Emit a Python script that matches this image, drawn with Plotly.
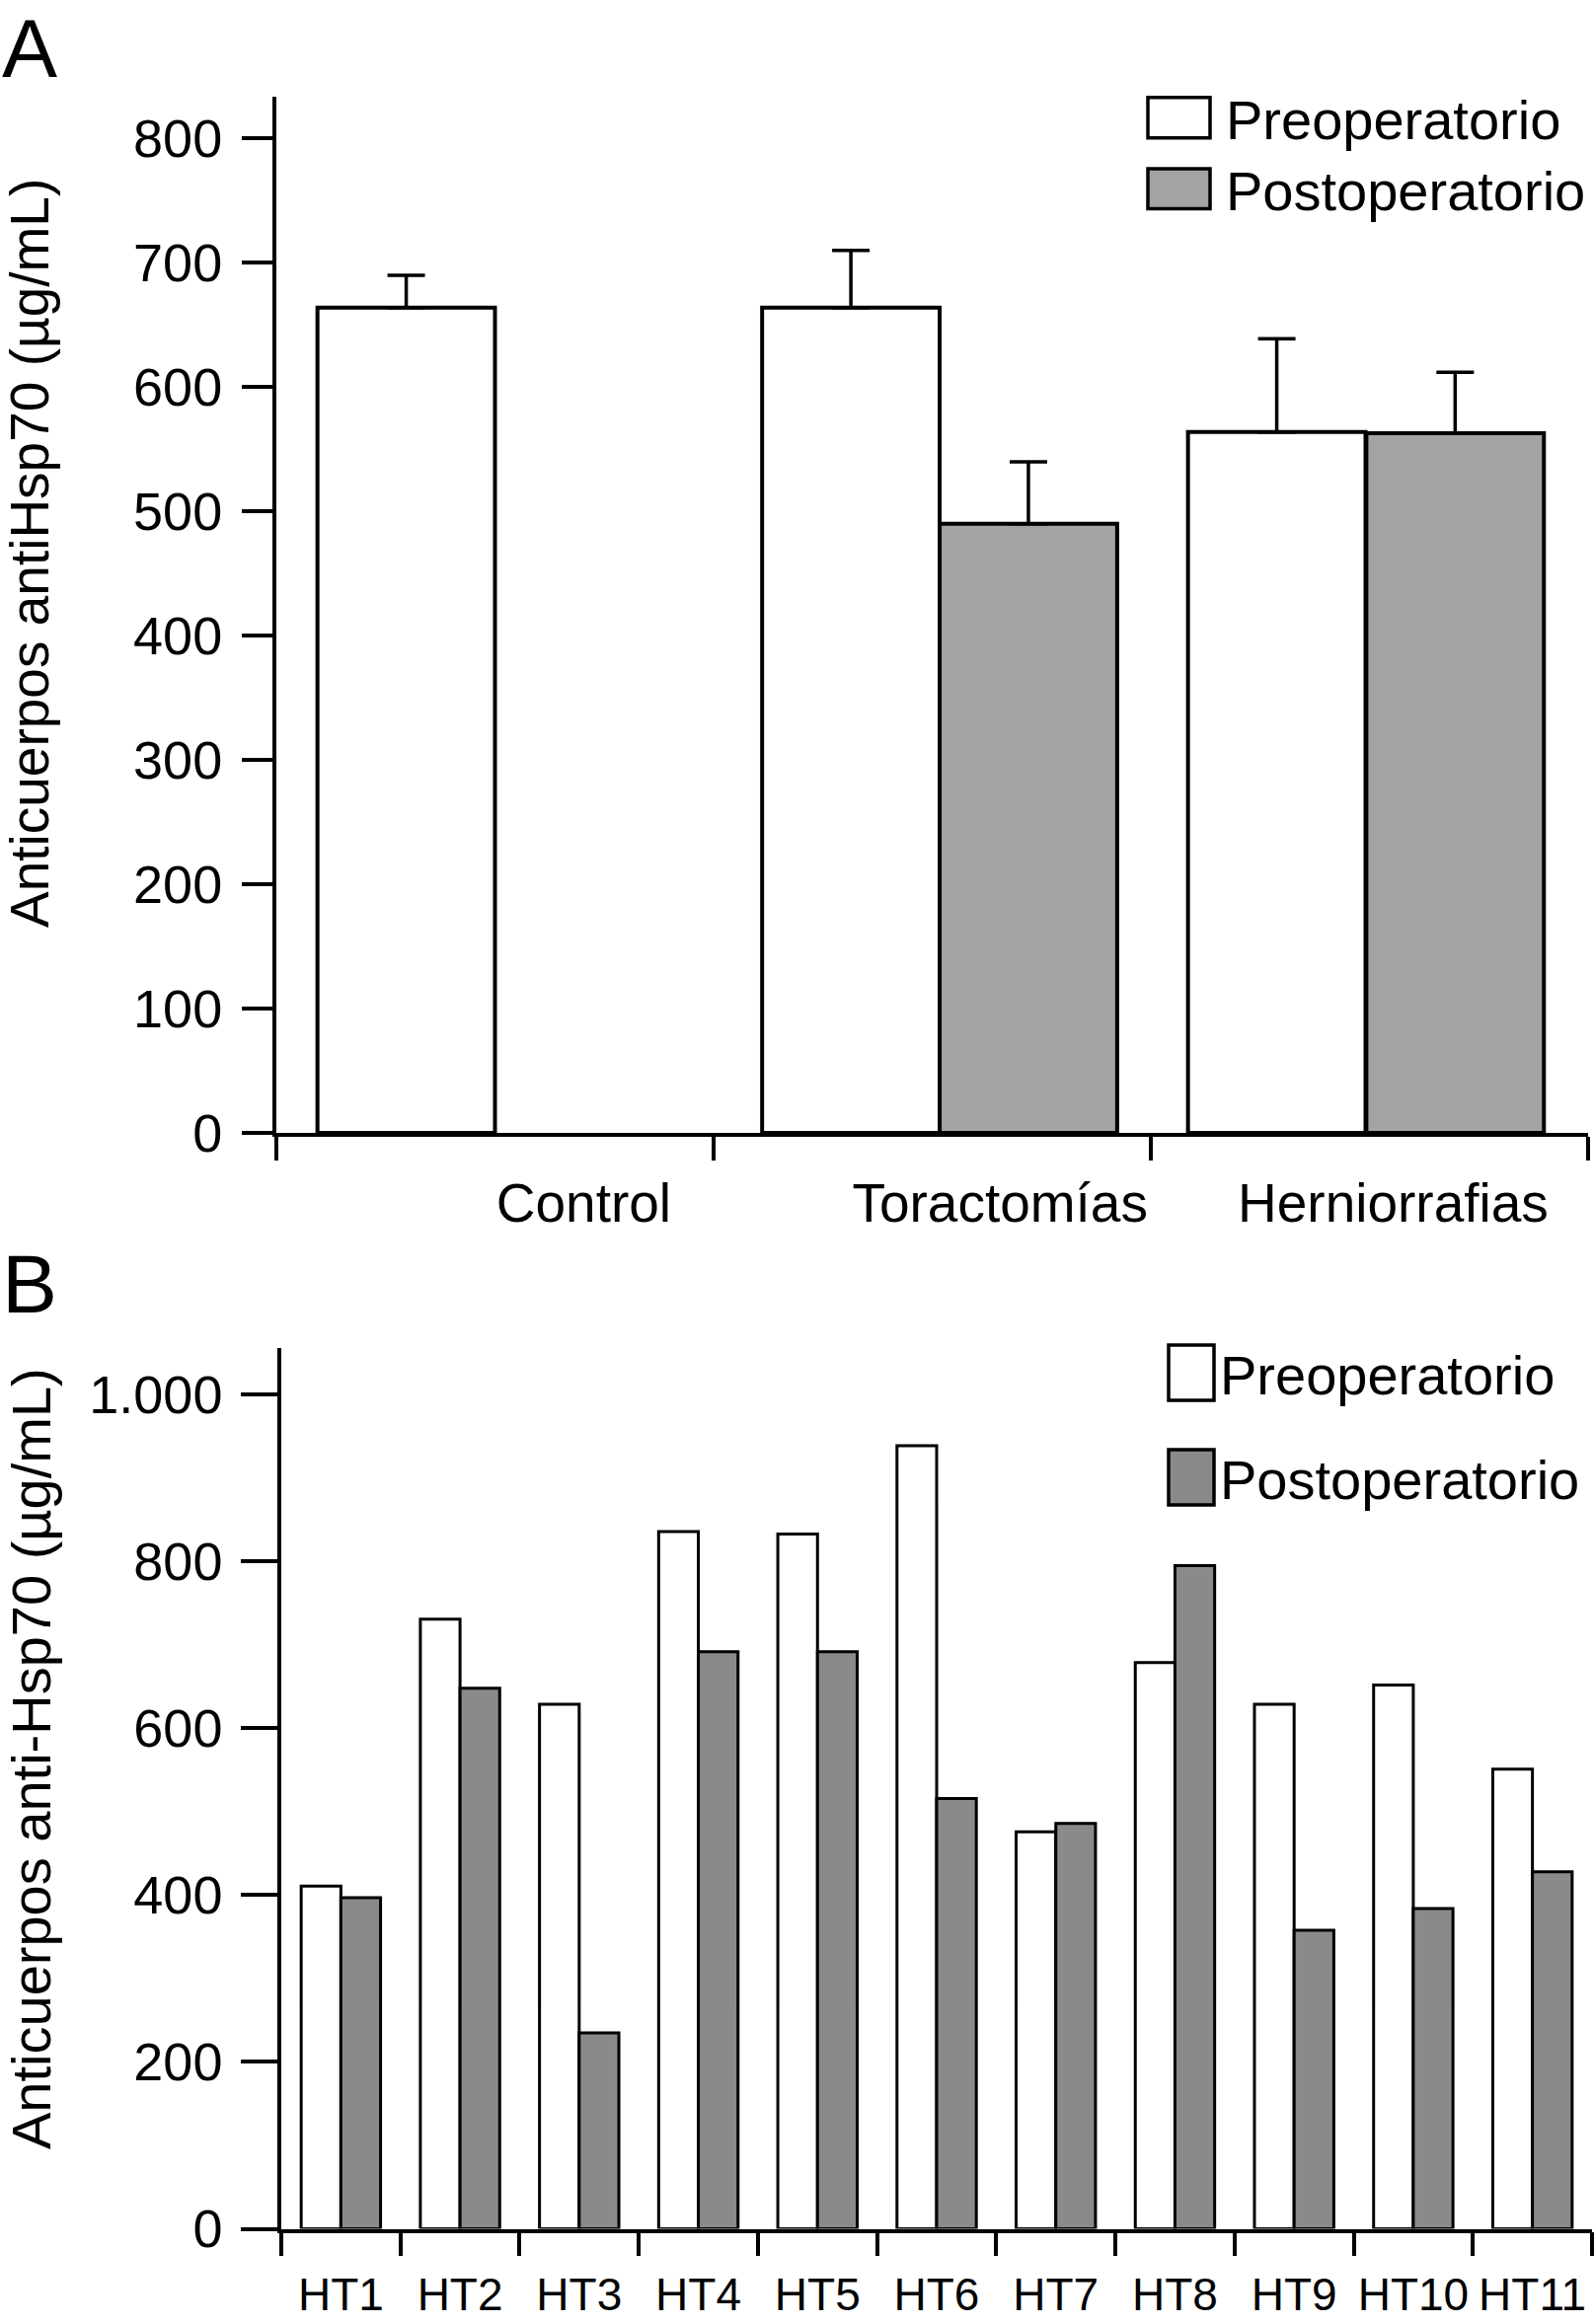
import plotly.graph_objects as go

# ---------------- Data ----------------
# Panel A
groups_a = ["Control", "Toractomías", "Herniorrafias"]
pre_a = [664, 664, 564]
pre_a_err = [26, 46, 75]
post_a = [None, 490, 563]
post_a_err = [0, 50, 49]
yticks_a = [0, 100, 200, 300, 400, 500, 600, 700, 800]

# Panel B
patients_b = ["HT1", "HT2", "HT3", "HT4", "HT5", "HT6", "HT7", "HT8", "HT9", "HT10", "HT11"]
pre_b = [411, 731, 629, 836, 833, 939, 476, 679, 629, 652, 551]
post_b = [397, 648, 235, 692, 692, 516, 486, 795, 358, 384, 428]
yticks_b = [0, 200, 400, 600, 800, 1000]
yticklabels_b = ["0", "200", "400", "600", "800", "1.000"]

series_names = ["Preoperatorio", "Postoperatorio"]

# ---------------- Layout helpers ----------------
W, H = 1615, 2355
FONT = "Liberation Sans, Arial, Helvetica, sans-serif"


def fx(px):
    return px / W


def fy(py):
    return 1 - py / H


xa = list(range(len(groups_a)))
xb = list(range(len(patients_b)))

# bar placement (style) for panel A, in category units relative to group centre
offset_pre_a = [-0.406, -0.389, -0.415]
offset_post_a = [0.0, 0.017, -0.007]

fig = go.Figure()

# Panel A bars
fig.add_trace(go.Bar(
    x=xa, y=pre_a, name=series_names[0], width=0.406, offset=offset_pre_a,
    marker=dict(color="white", line=dict(color="black", width=4)),
    error_y=dict(type="data", symmetric=False, array=pre_a_err,
                 arrayminus=[0] * len(pre_a), color="black", thickness=3.5, width=19),
    xaxis="x", yaxis="y", showlegend=False))
fig.add_trace(go.Bar(
    x=xa, y=post_a, name=series_names[1], width=0.406, offset=offset_post_a,
    marker=dict(color="#a3a3a3", line=dict(color="black", width=4)),
    error_y=dict(type="data", symmetric=False, array=post_a_err,
                 arrayminus=[0] * len(post_a), color="black", thickness=3.5, width=19),
    xaxis="x", yaxis="y", showlegend=False))

# Panel B bars
fig.add_trace(go.Bar(
    x=xb, y=pre_b, name=series_names[0], width=0.333, offset=-0.333,
    marker=dict(color="white", line=dict(color="black", width=3)),
    xaxis="x2", yaxis="y2", showlegend=False))
fig.add_trace(go.Bar(
    x=xb, y=post_b, name=series_names[1], width=0.333, offset=0,
    marker=dict(color="#8a8a8a", line=dict(color="black", width=3)),
    xaxis="x2", yaxis="y2", showlegend=False))

label_shift_a = [0.203, 0.155, 0.054]

fig.update_layout(
    width=W, height=H, autosize=False,
    template="none",
    paper_bgcolor="white", plot_bgcolor="white",
    margin=dict(l=0, r=0, t=0, b=0, pad=0),
    barmode="group",
    font=dict(family=FONT, color="black"),
    xaxis=dict(
        domain=[fx(280), fx(1609)], anchor="y", range=[-0.5, len(groups_a) - 0.5],
        showline=True, linecolor="black", linewidth=4, showgrid=False, zeroline=False,
        tickmode="array", tickvals=[i + s for i, s in zip(xa, label_shift_a)],
        ticktext=groups_a, ticks="", tickfont=dict(size=55, family=FONT, color="black"),
        ticklabelstandoff=20,
        minor=dict(tickmode="array", tickvals=[i - 0.5 for i in range(len(groups_a) + 1)],
                   ticks="outside", ticklen=24, tickwidth=4, tickcolor="black", showgrid=False),
    ),
    yaxis=dict(
        domain=[fy(1148), fy(97.6)], anchor="x", range=[0, 834],
        showline=True, linecolor="black", linewidth=4, showgrid=False, zeroline=False,
        tickmode="array", tickvals=yticks_a, ticks="outside", ticklen=31, tickwidth=4,
        tickcolor="black", tickfont=dict(size=54, family=FONT, color="black"),
        ticklabelstandoff=9,
    ),
    xaxis2=dict(
        domain=[fx(285), fx(1613)], anchor="y2", range=[-0.5, len(patients_b) - 0.5],
        showline=True, linecolor="black", linewidth=3.5, showgrid=False, zeroline=False,
        tickmode="array", tickvals=xb, ticktext=patients_b, ticks="",
        tickfont=dict(size=46, family=FONT, color="black"),
        ticklabelstandoff=24,
        minor=dict(tickmode="array", tickvals=[i - 0.5 for i in range(len(patients_b) + 1)],
                   ticks="outside", ticklen=24, tickwidth=3.5, tickcolor="black", showgrid=False),
    ),
    yaxis2=dict(
        domain=[fy(2258.5), fy(1366)], anchor="x2", range=[0, 1056],
        showline=True, linecolor="black", linewidth=3.5, showgrid=False, zeroline=False,
        tickmode="array", tickvals=yticks_b, ticktext=yticklabels_b, ticks="outside",
        ticklen=37, tickwidth=3.5, tickcolor="black",
        tickfont=dict(size=54, family=FONT, color="black"),
        ticklabelstandoff=8,
    ),
)

annotations = []
# Panel letters
annotations.append(dict(text="A", x=fx(0), y=fy(0), xref="paper", yref="paper",
                        xanchor="left", yanchor="top", showarrow=False,
                        font=dict(size=84, family=FONT, color="black")))
annotations.append(dict(text="B", x=fx(0), y=fy(1252), xref="paper", yref="paper",
                        xanchor="left", yanchor="top", showarrow=False,
                        font=dict(size=84, family=FONT, color="black")))
# Y-axis titles
annotations.append(dict(text="Anticuerpos antiHsp70 (µg/mL)", x=fx(30), y=fy(561),
                        xref="paper", yref="paper", textangle=-90, showarrow=False,
                        xanchor="center", yanchor="middle",
                        font=dict(size=55, family=FONT, color="black")))
annotations.append(dict(text="Anticuerpos anti-Hsp70 (µg/mL)", x=fx(31), y=fy(1782),
                        xref="paper", yref="paper", textangle=-90, showarrow=False,
                        xanchor="center", yanchor="middle",
                        font=dict(size=56, family=FONT, color="black")))

shapes = []
# Manual legends (box + label)
legend_a = [(98.7, 139.7, "white"), (171, 211.6, "#a3a3a3")]
for (y0, y1, col), name in zip(legend_a, series_names):
    shapes.append(dict(type="rect", xref="paper", yref="paper",
                       x0=fx(1163), x1=fx(1226), y0=fy(y1), y1=fy(y0),
                       fillcolor=col, line=dict(color="black", width=3.5)))
    annotations.append(dict(text=name, x=fx(1240), y=fy((y0 + y1) / 2 + 2), xref="paper",
                            yref="paper", xanchor="left", yanchor="middle", showarrow=False,
                            font=dict(size=56, family=FONT, color="black")))
legend_b = [(1363, 1419, "white"), (1469, 1525, "#8a8a8a")]
for (y0, y1, col), name in zip(legend_b, series_names):
    shapes.append(dict(type="rect", xref="paper", yref="paper",
                       x0=fx(1184), x1=fx(1230), y0=fy(y1), y1=fy(y0),
                       fillcolor=col, line=dict(color="black", width=3.5)))
    annotations.append(dict(text=name, x=fx(1234), y=fy((y0 + y1) / 2 + 2), xref="paper",
                            yref="paper", xanchor="left", yanchor="middle", showarrow=False,
                            font=dict(size=56, family=FONT, color="black")))

fig.update_layout(annotations=annotations, shapes=shapes)

fig.write_html("out.html",
               config={"displayModeBar": False},
               post_script="document.body.style.margin='0';document.body.style.overflow='hidden';")
